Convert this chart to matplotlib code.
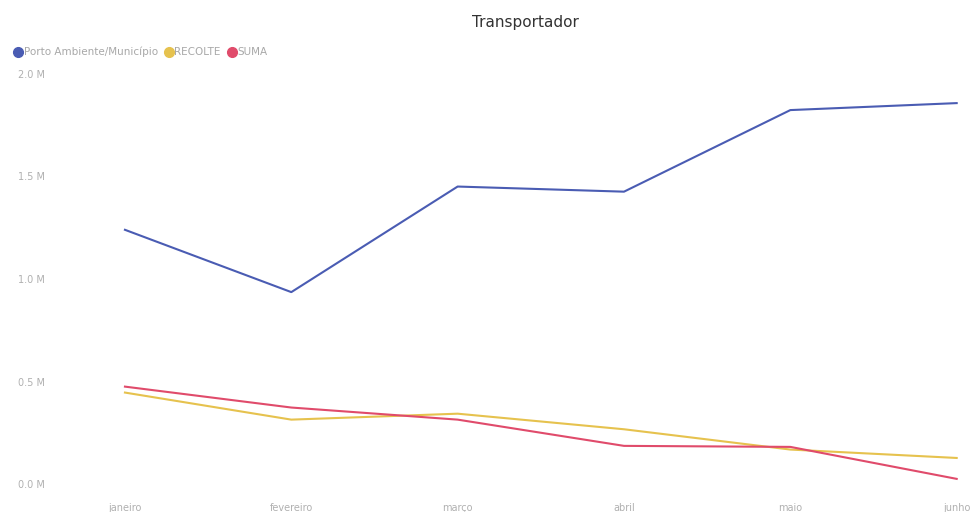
import matplotlib.pyplot as plt
from matplotlib.lines import Line2D

months = ['janeiro', 'fevereiro', 'março', 'abril', 'maio', 'junho']
porto = [1.240, 0.936, 1.451, 1.426, 1.824, 1.858]
recolte = [0.446, 0.314, 0.343, 0.267, 0.168, 0.127]
suma = [0.475, 0.373, 0.314, 0.186, 0.181, 0.025]
y_ticks = [0.0, 0.5, 1.0, 1.5, 2.0]
y_labels = ['0.0 M', '0.5 M', '1.0 M', '1.5 M', '2.0 M']

series = [('Porto Ambiente/Município', porto, '#4a5cb3'),
          ('RECOLTE', recolte, '#e6c24e'),
          ('SUMA', suma, '#e04b6b')]


def main():
    fig = plt.figure(figsize=(9.71, 5.12), dpi=100)
    ax = fig.add_axes([100 / 971, 28 / 512, 865 / 971, 410 / 512])

    x = list(range(len(months)))
    for name, vals, col in series:
        ax.plot(x, vals, color=col, lw=1.5, solid_joinstyle='round', clip_on=False)

    ax.set_xlim(-0.15, 5.05)
    ax.set_ylim(0, 2.0)
    ax.set_xticks(x)
    ax.set_xticklabels(months, fontsize=7, color='#b0b0b0')
    ax.set_yticks(y_ticks)
    ax.set_yticklabels(y_labels, fontsize=7, color='#b0b0b0', ha='left')
    ax.tick_params(axis='y', length=0, pad=59)
    ax.tick_params(axis='x', length=0, pad=14)
    for s in ax.spines.values():
        s.set_visible(False)

    fig.text(525 / 971, 1 - 22 / 512, 'Transportador', ha='center', va='center',
             fontsize=11, color='#333333')

    handles = [Line2D([], [], marker='o', ls='', color=c, markersize=7) for _, _, c in series]
    fig.legend(handles, [n for n, _, _ in series], loc='center left',
               bbox_to_anchor=(8 / 971, 1 - 52 / 512), frameon=False, ncol=3,
               fontsize=7.5, labelcolor='#a8a8a8', handletextpad=0.0,
               columnspacing=0.6, borderpad=0, handlelength=1.0)

    fig.savefig('out.png', dpi=100, facecolor='white')


if __name__ == '__main__':
    main()
